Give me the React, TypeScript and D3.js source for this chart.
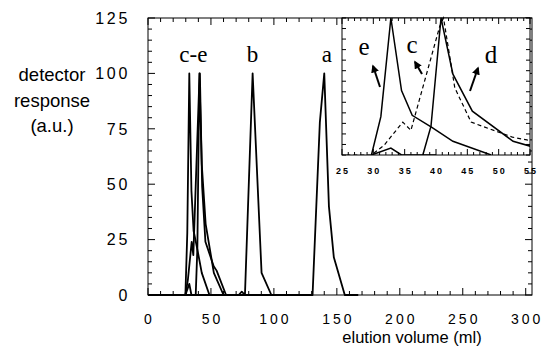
import * as d3 from "d3";

// elution volume (ml) vs detector response
const traceA = [[0, 0], [130.7, 0], [136.5, 78], [140, 100], [143.7, 40], [147.6, 17], [156.3, 0], [167, 0]];
const traceB = [[0, 0], [72, 0], [74.5, 1.5], [77, 0], [83.1, 100], [90.2, 10], [98, 0]];
const traceC = [[0, 0], [29.7, 0], [31.7, 7], [34.7, 24], [36, 18], [40.6, 94], [41.2, 100], [43, 49], [45.6, 24], [52.2, 13], [54.5, 11], [62, 0]];
const traceD = [[37.9, 0], [39.2, 21], [40.8, 100], [42.7, 59], [45.8, 32], [52.3, 10], [60, 0]];
const traceE = [[29.7, 0], [31.2, 28], [32.8, 100], [34.5, 47], [36.2, 29], [39.4, 20], [42.7, 10], [48.8, 0]];
const traceSmall = [[29.7, 0], [32.8, 5], [34.5, 0], [40, 0]];

const yTickLabels = [0, 25, 50, 75, 100, 125];
const xTickLabels = [0, 50, 100, 150, 200, 250, 300];
const insetXLabels = [25, 30, 35, 40, 45, 50, 55];

const peakLabels = [
  { text: "c-e", x: 36 },
  { text: "b", x: 83 },
  { text: "a", x: 142 },
];

const sans = "'Liberation Sans', Arial, sans-serif";
const serif = "'Liberation Serif', 'Times New Roman', serif";

export default function App() {
  const W = 550;
  const H = 356;

  // main plot frame
  const left = 148, right = 532, top = 18, bottom = 295;
  const x = d3.scaleLinear().domain([0, 305]).range([left, right]);
  const y = d3.scaleLinear().domain([0, 125]).range([bottom, top]);

  // inset frame
  const iL = 342, iR = 530, iT = 18, iB = 155;
  const xi = d3.scaleLinear().domain([25, 55]).range([iL, iR]);
  const yi = d3.scaleLinear().domain([0, 100]).range([iB, iT]);

  const line = d3.line<number[]>().x((d) => x(d[0])).y((d) => y(d[1]));
  const lineI = d3.line<number[]>().x((d) => xi(d[0])).y((d) => yi(d[1]));

  const mainTraces = [traceA, traceB, traceC, traceD, traceE, traceSmall];

  const xMinor = d3.range(0, 301, 10);
  const yMinor = d3.range(0, 126, 5);
  const xiMinor = d3.range(25, 56, 1);
  const yiMinor = d3.range(0, 100.1, 100 / 13);

  const arrows = [
    { label: "e", lx: 364, ly: 55, x1: 380, y1: 87, x2: 373, y2: 66 },
    { label: "c", lx: 412, ly: 53, x1: 422, y1: 74, x2: 415, y2: 62 },
    { label: "d", lx: 491, ly: 63, x1: 470, y1: 91, x2: 478, y2: 68 },
  ];

  return (
    <svg width={W} height={H} style={{ position: "absolute", left: 0, top: 0, background: "#fff" }}>
      <defs>
        <marker id="ah" viewBox="0 0 10 10" refX="8" refY="5" markerWidth="4" markerHeight="4" orient="auto">
          <path d="M0,0 L10,5 L0,10 z" fill="#000" />
        </marker>
        <clipPath id="insetClip">
          <rect x={iL} y={iT - 2} width={iR - iL} height={iB - iT + 2} />
        </clipPath>
      </defs>

      {/* main frame */}
      <rect x={left} y={top} width={right - left} height={bottom - top} fill="none" stroke="#000" strokeWidth={1} />
      {xMinor.map((v) => {
        const len = v % 50 === 0 ? 7 : 4;
        return (
          <g key={"xt" + v}>
            <line x1={x(v)} x2={x(v)} y1={bottom} y2={bottom - len} stroke="#000" />
            <line x1={x(v)} x2={x(v)} y1={top} y2={top + len} stroke="#000" />
          </g>
        );
      })}
      {yMinor.map((v) => {
        const len = v % 25 === 0 ? 7 : 4;
        return (
          <g key={"yt" + v}>
            <line x1={left} x2={left + len} y1={y(v)} y2={y(v)} stroke="#000" />
            <line x1={right} x2={right - len} y1={y(v)} y2={y(v)} stroke="#000" />
          </g>
        );
      })}

      {yTickLabels.map((v) => (
        <text key={"yl" + v} x={130} y={y(v)} dy="0.36em" textAnchor="end" fontFamily={sans} fontSize={16} letterSpacing={2.7}>
          {v}
        </text>
      ))}
      {xTickLabels.map((v) => (
        <text key={"xl" + v} x={x(v) + 1.5} y={324} textAnchor="middle" fontFamily={sans} fontSize={14} letterSpacing={3}>
          {v}
        </text>
      ))}

      <text x={52} fontFamily={sans} fontSize={18.5} textAnchor="middle">
        <tspan x={52} y={81}>detector</tspan>
        <tspan x={52} y={107}>response</tspan>
        <tspan x={52} y={132}>(a.u.)</tspan>
      </text>
      <text x={412} y={343} fontFamily={sans} fontSize={16.5} textAnchor="middle">
        elution volume (ml)
      </text>

      {mainTraces.map((t, i) => (
        <path key={"m" + i} d={line(t) || ""} fill="none" stroke="#000" strokeWidth={1.8} strokeLinejoin="round" />
      ))}

      {peakLabels.map((p) => (
        <text key={p.text} x={x(p.x)} y={62} textAnchor="middle" fontFamily={serif} fontSize={23}>
          {p.text}
        </text>
      ))}

      {/* inset */}
      <rect x={iL} y={iT} width={iR - iL} height={iB - iT} fill="#fff" stroke="#000" strokeWidth={1} />
      {xiMinor.map((v) => {
        const len = v % 5 === 0 ? 6 : 3;
        return (
          <g key={"xit" + v}>
            <line x1={xi(v)} x2={xi(v)} y1={iB} y2={iB - len} stroke="#000" />
            <line x1={xi(v)} x2={xi(v)} y1={iT} y2={iT + len} stroke="#000" />
          </g>
        );
      })}
      {yiMinor.map((v, i) => (
        <g key={"yit" + i}>
          <line x1={iL} x2={iL + 4} y1={yi(v)} y2={yi(v)} stroke="#000" />
          <line x1={iR} x2={iR - 4} y1={yi(v)} y2={yi(v)} stroke="#000" />
        </g>
      ))}
      {insetXLabels.map((v) => (
        <text key={"xil" + v} x={xi(v) + 1} y={174} textAnchor="middle" fontFamily={sans} fontSize={9} fontWeight="bold" letterSpacing={2}>
          {v}
        </text>
      ))}

      <g clipPath="url(#insetClip)">
        <path d={lineI(traceE) || ""} fill="none" stroke="#000" strokeWidth={1.5} />
        <path d={lineI(traceD) || ""} fill="none" stroke="#000" strokeWidth={1.5} />
        <path d={lineI(traceSmall) || ""} fill="none" stroke="#000" strokeWidth={1.5} />
        <path d={lineI(traceC) || ""} fill="none" stroke="#000" strokeWidth={1.2} strokeDasharray="4,3" />
      </g>

      {arrows.map((a) => (
        <g key={a.label}>
          <text x={a.lx} y={a.ly} textAnchor="middle" fontFamily={serif} fontSize={25}>
            {a.label}
          </text>
          <line x1={a.x1} y1={a.y1} x2={a.x2} y2={a.y2} stroke="#000" strokeWidth={2} markerEnd="url(#ah)" />
        </g>
      ))}
    </svg>
  );
}
